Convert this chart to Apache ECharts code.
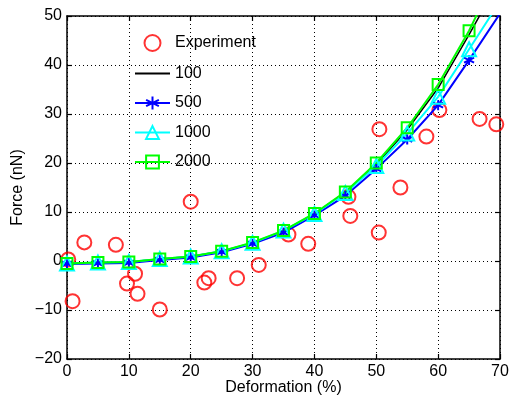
<!DOCTYPE html>
<html><head><meta charset="utf-8">
<script src="https://cdn.jsdelivr.net/npm/echarts@6/dist/echarts.min.js"></script>
<style>html,body{margin:0;padding:0;background:#fff}#c{width:511px;height:397px}</style>
</head><body><div id="c"></div>
<script>
// Experimental data (Deformation %, Force nN)
const expX = [0.2, 0.9, 2.8, 7.9, 9.7, 11.0, 11.4, 15.0, 20.0, 22.2, 22.9, 27.5, 31.0, 35.8, 39.0, 45.5, 45.8, 50.4, 53.9, 50.5, 58.1, 60.2, 66.7, 69.4];
const expY = [0.3, -8.2, 3.8, 3.3, -4.6, -2.6, -6.7, -9.9, 12.1, -4.4, -3.5, -3.5, -0.8, 5.4, 3.5, 13.1, 9.2, 5.8, 15.0, 26.9, 25.4, 30.8, 29.0, 27.9];
// Model curves
const modelX = [0, 5, 10, 15, 20, 25, 30, 35, 40, 45, 50, 55, 60, 65, 70];
const f100  = [-0.5, -0.3, -0.2, 0.4, 0.9, 2.0, 3.7, 6.1, 9.6, 14.0, 19.7, 26.8, 35.3, 46.2, 57.5];
const f500  = [-0.6, -0.5, -0.4, 0.2, 0.7, 1.8, 3.5, 5.8, 9.3, 13.3, 18.8, 24.8, 31.8, 41.0, 50.5];
const f1000 = [-0.5, -0.3, -0.2, 0.4, 0.9, 2.0, 3.7, 6.2, 9.6, 13.9, 19.4, 26.0, 33.5, 43.2, 53.0];
const f2000 = [-0.5, -0.3, -0.2, 0.4, 0.9, 2.0, 3.8, 6.2, 9.7, 14.1, 20.0, 27.2, 36.0, 47.0, 60.0];
const seriesNames = ['Experiment', '100', '500', '1000', '2000'];
const xTitle = 'Deformation (%)';
const yTitle = 'Force (nN)';

const pair = (xs, ys) => xs.map((x, i) => [x, ys[i]]);
const FONT = 'Liberation Sans';
const FS = 16;
const asterisk = 'path://M0,-10L0,10M-8.66,-5L8.66,5M-8.66,5L8.66,-5';
const minus = v => String(v).replace('-', '\u2212');

const chart = echarts.init(document.getElementById('c'), null, {renderer: 'canvas'});
const axisCommon = {
  type: 'value',
  axisLine: {show: true, onZero: false, lineStyle: {color: '#000', width: 1.5}},
  axisTick: {show: true, inside: true, length: 5, lineStyle: {color: '#000', width: 1.2}},
};
chart.setOption({
  animation: false,
  textStyle: {fontFamily: FONT},
  grid: {left: 67, right: 11, top: 16, bottom: 38, containLabel: false, outerBoundsMode: 'none'},
  legend: {
    orient: 'vertical', left: 134, top: 34, itemWidth: 35, itemHeight: 16, itemGap: 13.5,
    padding: 0,
    data: [
      {name: seriesNames[0]},
      {name: seriesNames[1], itemStyle: {color: 'rgba(0,0,0,0)', borderWidth: 0, opacity: 0}},
      {name: seriesNames[2]},
      {name: seriesNames[3]},
      {name: seriesNames[4]}
    ],
    textStyle: {fontFamily: FONT, fontSize: FS, lineHeight: 16, color: '#000'},
    inactiveColor: '#ccc'
  },
  xAxis: [
    Object.assign({}, axisCommon, {
      min: 0, max: 70, interval: 10, position: 'bottom',
      name: xTitle, nameLocation: 'middle', nameGap: 21, nameMoveOverlap: false,
      nameTextStyle: {fontFamily: FONT, fontSize: FS, color: '#000'},
      axisLabel: {fontFamily: FONT, fontSize: FS, color: '#000', margin: 5, formatter: minus},
      splitLine: {show: true, lineStyle: {color: '#000', type: [1, 3], width: 1}}
    }),
    Object.assign({}, axisCommon, {
      min: 0, max: 70, interval: 10, position: 'top',
      axisLabel: {show: false}, splitLine: {show: false}
    })
  ],
  yAxis: [
    Object.assign({}, axisCommon, {
      min: -20, max: 50, interval: 10, position: 'left',
      name: yTitle, nameLocation: 'middle', nameGap: 41, nameMoveOverlap: false,
      nameTextStyle: {fontFamily: FONT, fontSize: FS, color: '#000'},
      axisLabel: {fontFamily: FONT, fontSize: FS, color: '#000', margin: 5, formatter: minus},
      splitLine: {show: true, lineStyle: {color: '#000', type: [1, 3], width: 1}}
    }),
    Object.assign({}, axisCommon, {
      min: -20, max: 50, interval: 10, position: 'right',
      axisLabel: {show: false}, splitLine: {show: false}
    })
  ],
  series: [
    {
      name: seriesNames[0], type: 'scatter', data: pair(expX, expY),
      symbol: 'circle', symbolSize: 14, clip: true,
      itemStyle: {color: 'rgba(0,0,0,0)', borderColor: '#ff0000', borderWidth: 2}
    },
    {
      name: seriesNames[1], type: 'line', data: pair(modelX, f100), symbol: 'none', clip: true,
      lineStyle: {color: '#000', width: 1.5}, itemStyle: {color: '#000'}
    },
    {
      name: seriesNames[2], type: 'line', data: pair(modelX, f500), symbol: asterisk, symbolSize: 10, clip: true,
      showAllSymbol: true,
      lineStyle: {color: '#0000ff', width: 2},
      itemStyle: {color: 'rgba(0,0,0,0)', borderColor: '#0000ff', borderWidth: 2}
    },
    {
      name: seriesNames[3], type: 'line', data: pair(modelX, f1000), symbol: 'triangle', symbolSize: 14, clip: true,
      showAllSymbol: true,
      lineStyle: {color: '#00ffff', width: 2},
      itemStyle: {color: 'rgba(0,0,0,0)', borderColor: '#00ffff', borderWidth: 2}
    },
    {
      name: seriesNames[4], type: 'line', data: pair(modelX, f2000), symbol: 'rect', symbolSize: 11, clip: true,
      showAllSymbol: true,
      lineStyle: {color: '#00ff00', width: 2},
      itemStyle: {color: 'rgba(0,0,0,0)', borderColor: '#00ff00', borderWidth: 2}
    }
  ]
});
</script></body></html>
